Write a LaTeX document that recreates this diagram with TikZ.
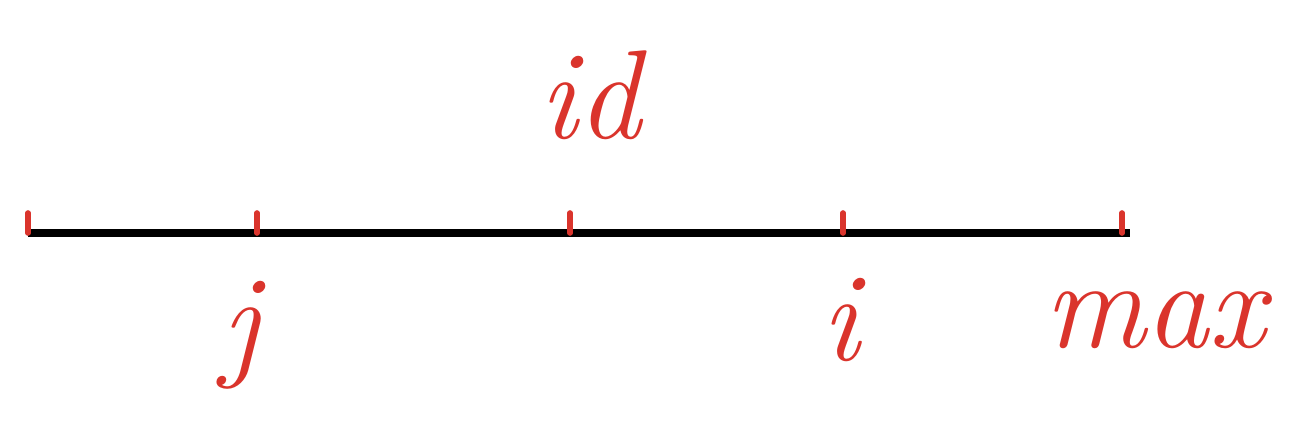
\documentclass[tikz,border=0pt]{standalone}
\definecolor{sketchred}{RGB}{218,52,44}
\begin{document}
\begin{tikzpicture}[
    tickmark/.style={draw=sketchred, line width=1.6pt, line cap=round},
    lbl/.style={text=sketchred, font=\fontsize{36}{36}\selectfont\itshape, inner sep=0pt}]
  \useasboundingbox (0,0) rectangle (13.04,4.30);
  % number line
  \coordinate (start) at (0.28,1.97);
  \coordinate (end) at (11.30,1.97);
  \draw[line width=2.4pt] (start) -- (end);
  % ticks
  \foreach \x/\n in {0.28/a, 2.57/b, 5.70/c, 8.43/d, 11.22/e} {
    \coordinate (t\n) at (\x,1.97);
    \draw[tickmark] (t\n) -- ++(0,0.2);
  }
  % labels
  \node[lbl] (id) at (5.90,3.35) {id};
  \node[lbl] (j) at (2.40,0.95) {j};
  \node[lbl] (i) at (8.40,1.10) {i};
  \node[lbl] (max) at (11.55,1.10) {max};
\end{tikzpicture}
\end{document}
